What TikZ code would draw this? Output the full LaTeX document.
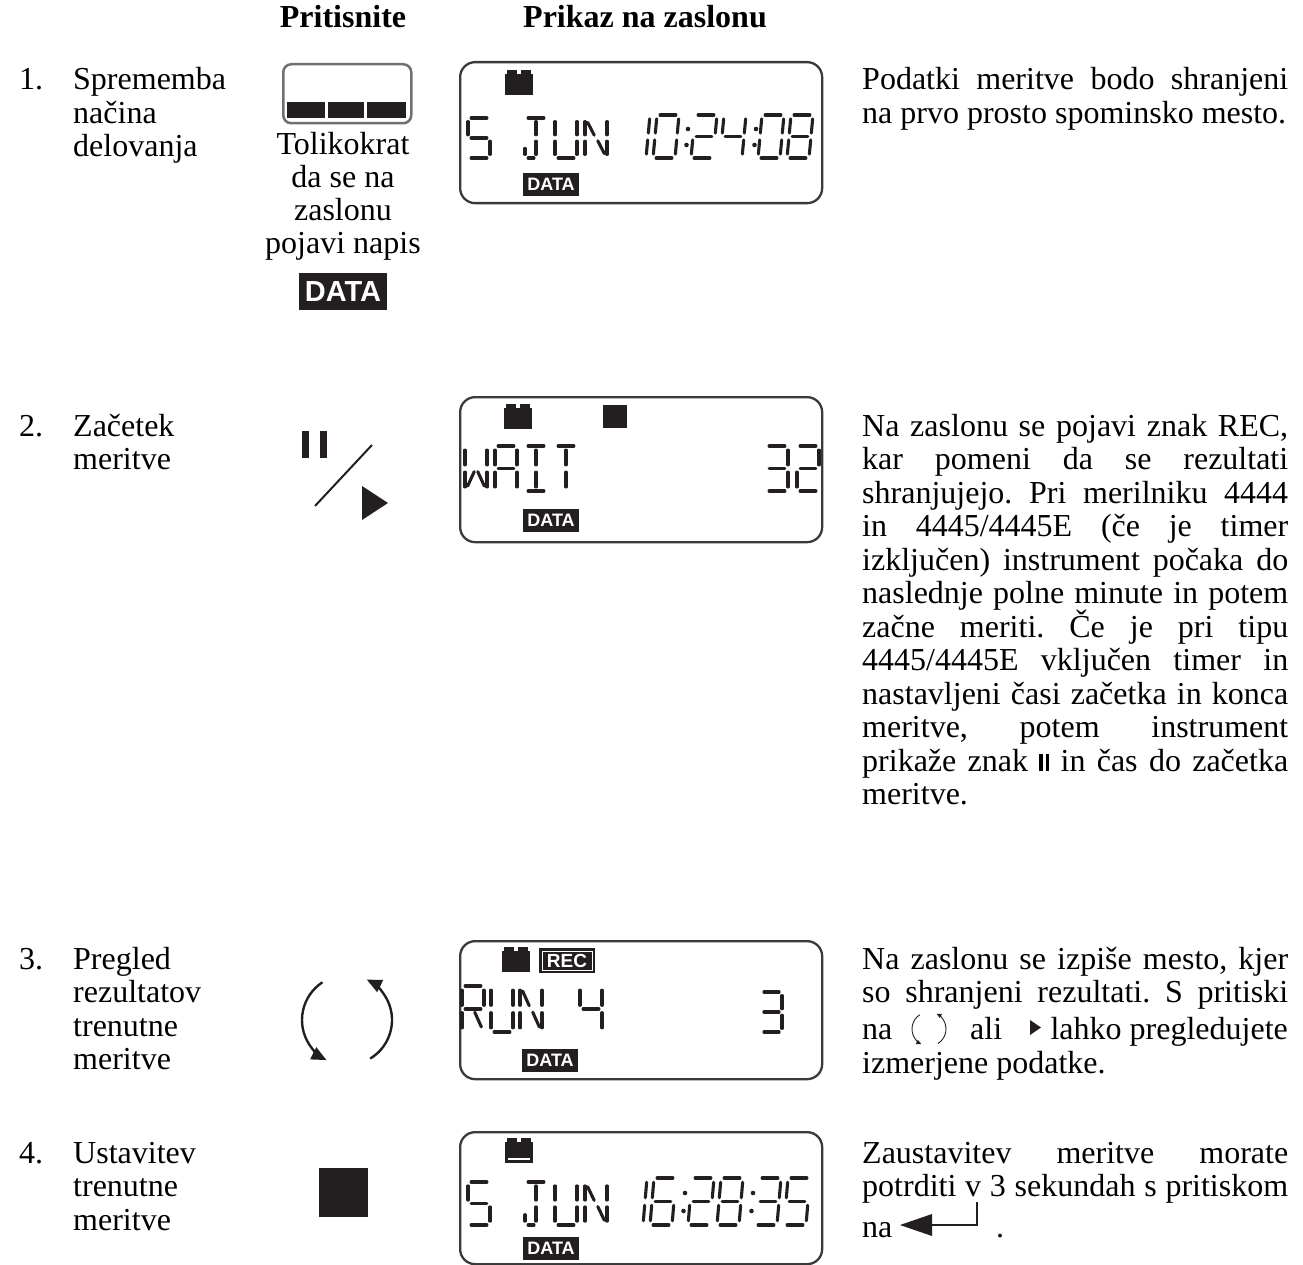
\documentclass[tikz,border=0pt]{standalone}
\usepackage{fontspec}
\setmainfont{Liberation Serif}
\newfontfamily\arialf{Liberation Sans}
\usetikzlibrary{arrows.meta}
\definecolor{ink}{HTML}{231F20}
\definecolor{framec}{HTML}{3A3A3A}
\definecolor{btnc}{HTML}{707070}
\frenchspacing

\def\sgA{(0.14,0)--(0.86,0)}
\def\sgB{(1,0.09)--(1,0.42)}
\def\sgC{(1,0.58)--(1,0.91)}
\def\sgD{(0.14,1)--(0.86,1)}
\def\sgE{(0,0.58)--(0,0.91)}
\def\sgF{(0,0.09)--(0,0.42)}
\def\sgG{(0.14,0.5)--(0.86,0.5)}
\def\sgGl{(0.14,0.5)--(0.41,0.5)}
\def\sgGr{(0.59,0.5)--(0.86,0.5)}
\def\sgH{(0.5,0.09)--(0.5,0.42)}
\def\sgL{(0.5,0.58)--(0.5,0.91)}
\def\sgDl{(0.14,1)--(0.41,1)}
\def\sgEs{(0,0.76)--(0,0.91)}
\def\sgNa{(0.12,0.11)--(0.42,0.43)}
\def\sgNb{(0.58,0.57)--(0.88,0.89)}
\def\sgWa{(0.42,0.57)--(0.12,0.89)}

\newcommand\lcdchar[6]{%
  \begin{scope}[shift={(#1pt,-#2pt)},x={(#3pt,0pt)},y={(-#5pt,-#4pt)}]
    \foreach \s in {#6}{\edef\tmp{\noexpand\draw[segline] \csname sg\s\endcsname;}\tmp}
  \end{scope}}
\newcommand\lcdbatt[2]{%
  \fill[ink] (#1,#2+4) rectangle (#1+28,#2+25);
  \fill[ink] (#1+2,#2) rectangle (#1+12,#2+5);
  \fill[ink] (#1+16,#2) rectangle (#1+26,#2+5);}
\newcommand\lcdcolon[3]{\fill[ink] (#1,#2) circle[radius=2.3pt]; \fill[ink] (#1-1.5,#3) circle[radius=2.3pt];}
\newcommand\jline[3]{\node[txt] (#1) at (862,#2) {\makebox[426pt][s]{#3}};}
\newcommand\nline[3]{\node[txt] (#1) at (862,#2) {#3};}
\newcommand\pausesym{\rule{3.2pt}{17pt}\hspace{3.5pt}\rule{3.2pt}{17pt}}

\begin{document}
\begin{tikzpicture}[x=1pt,y=-1pt,
  txt/.style={anchor=base west,inner sep=0pt,font=\fontsize{32}{33.5}\selectfont},
  ctxt/.style={anchor=base,inner sep=0pt,font=\fontsize{32}{33.5}\selectfont},
  hdr/.style={anchor=base,inner sep=0pt,font=\fontsize{32}{33.5}\selectfont\bfseries},
  lcdframe/.style={draw=framec,line width=2.3pt,rounded corners=15pt,anchor=north west,inner sep=0pt,minimum width=362pt},
  segline/.style={line width=3.1pt,draw=ink,line cap=round},
  databox/.style={fill=ink,text=white,inner sep=0pt,font=\arialf\bfseries\fontsize{18}{18}\selectfont,minimum width=56pt,minimum height=23pt},
  bigarr/.style={line width=2.4pt,draw=ink,-{Triangle[length=15pt,width=13pt]}},
  smallarr/.style={line width=0.9pt,draw=ink,-{Triangle[length=5pt,width=4.5pt]}}]
\useasboundingbox (0,0) rectangle (1303,1265);

% headers
\node[hdr] (h1) at (343,28) {Pritisnite};
\node[hdr] (h2) at (645,28) {Prikaz na zaslonu};

% left column
\node[txt] (n1) at (19,90) {1.};
\node[txt] (l1a) at (73,90) {Sprememba};
\node[txt] (l1b) at (73,123.5) {načina};
\node[txt] (l1c) at (73,157) {delovanja};
\node[txt] (n2) at (19,436) {2.};
\node[txt] (l2a) at (73,436) {Začetek};
\node[txt] (l2b) at (73,469.5) {meritve};
\node[txt] (n3) at (19,969) {3.};
\node[txt] (l3a) at (73,969) {Pregled};
\node[txt] (l3b) at (73,1002.5) {rezultatov};
\node[txt] (l3c) at (73,1036) {trenutne};
\node[txt] (l3d) at (73,1069.5) {meritve};
\node[txt] (n4) at (19,1163) {4.};
\node[txt] (l4a) at (73,1163) {Ustavitev};
\node[txt] (l4b) at (73,1196.5) {trenutne};
\node[txt] (l4c) at (73,1230) {meritve};

% button 1
\node[draw=btnc,line width=2.5pt,rounded corners=8pt,anchor=north west,inner sep=0pt,minimum width=128pt,minimum height=59pt] (btn1) at (282,63) {};
\fill[ink] (287,102) rectangle (325,118);
\fill[ink] (328,102) rectangle (364,118);
\fill[ink] (367,102) rectangle (406,118);
\node[ctxt] (t1) at (343,155) {Tolikokrat};
\node[ctxt] (t2) at (343,188) {da se na};
\node[ctxt] (t3) at (343,221) {zaslonu};
\node[ctxt] (t4) at (343,254) {pojavi napis};
\node[fill=ink,text=white,inner sep=0pt,minimum width=88pt,minimum height=37pt,font=\arialf\bfseries\fontsize{29}{29}\selectfont] (b1data) at (343,291.5) {DATA};

% button 2
\fill[ink] (302,431) rectangle (309,458);
\fill[ink] (320,431) rectangle (327,458);
\draw[ink,line width=2pt] (315,506) -- (372,445);
\fill[ink] (362,486) -- (388,503) -- (362,520) -- cycle;

% button 3
\coordinate (cc) at (347,1020);
\draw[bigarr] (cc) ++(123:45pt) arc[start angle=123,end angle=243,radius=45pt];
\draw[bigarr] (cc) ++(-59:45pt) arc[start angle=-59,end angle=64,radius=45pt];

% button 4
\node[fill=ink,inner sep=0pt,minimum size=49pt,anchor=north west] (stopbtn) at (319,1168) {};

% display 1
\node[lcdframe,minimum height=141pt] (disp1) at (459,61) {};
\lcdbatt{505}{70}
\lcdchar{468}{118}{22}{40}{0}{A,F,G,C,D}
\lcdchar{525}{118}{22}{40}{0}{A,H,L,Dl,Es}
\lcdchar{555}{118}{22}{40}{0}{F,E,D,B,C}
\lcdchar{585}{118}{22}{40}{0}{F,E,B,C,Na,Nb}
\lcdchar{628}{115}{22}{43}{4}{B,C}
\lcdchar{657}{115}{22}{43}{4}{A,B,C,D,E,F}
\lcdcolon{688}{129}{145}
\lcdchar{695}{115}{22}{43}{4}{A,B,G,E,D}
\lcdchar{724}{115}{22}{43}{4}{F,G,B,C}
\lcdcolon{756}{129}{145}
\lcdchar{762}{115}{22}{43}{4}{A,B,C,D,E,F}
\lcdchar{791}{115}{22}{43}{4}{A,B,C,D,E,F,G}
\node[databox] (d1data) at (551,184.5) {DATA};

% display 2
\node[lcdframe,minimum height=145pt] (disp2) at (459,396) {};
\lcdbatt{504}{404}
\fill[ink] (603,405) rectangle (627,428);
\lcdchar{465}{446}{22}{45}{0}{F,E,B,C,Wa,Nb}
\lcdchar{495}{446}{22}{45}{0}{A,F,E,B,C,G}
\lcdchar{525}{446}{22}{45}{0}{A,H,L,D}
\lcdchar{555}{446}{22}{45}{0}{A,H,L}
\lcdchar{766}{446}{22}{45}{0}{A,B,G,C,D}
\lcdchar{797}{446}{22}{45}{0}{A,B,G,E,D}
\node[databox] (d2data) at (551,520) {DATA};

% display 3
\node[lcdframe,minimum height=138pt] (disp3) at (459,940) {};
\lcdbatt{502}{947}
\node[fill=ink,inner sep=0pt,minimum width=56pt,minimum height=25pt] (recbox) at (567,960.5) {};
\node[draw=white,line width=1pt,inner sep=0pt,minimum width=50pt,minimum height=19pt,text=white,font=\arialf\bfseries\fontsize{19}{19}\selectfont] (rectext) at (recbox.center) {REC};
\lcdchar{462}{986}{22}{46}{0}{A,F,E,B,G,Nb}
\lcdchar{491}{986}{22}{46}{0}{F,E,D,B,C}
\lcdchar{520}{986}{22}{46}{0}{F,E,B,C,Na,Nb}
\lcdchar{580}{986}{22}{46}{0}{F,G,B,C}
\lcdchar{761}{992}{21}{40}{0}{A,B,G,C,D}
\node[databox] (d3data) at (550,1060) {DATA};

% display 4
\node[lcdframe,minimum height=132pt] (disp4) at (459,1131) {};
\lcdbatt{505}{1138}
\draw[white,line width=1.5pt] (508,1159) -- (530,1159);
\lcdchar{468}{1182}{22}{43}{0}{A,F,G,C,D}
\lcdchar{525}{1182}{22}{43}{0}{A,H,L,Dl,Es}
\lcdchar{555}{1182}{22}{43}{0}{F,E,D,B,C}
\lcdchar{585}{1182}{22}{43}{0}{F,E,B,C,Na,Nb}
\lcdchar{625}{1178}{22}{47}{4}{B,C}
\lcdchar{654}{1178}{22}{47}{4}{A,F,G,E,D,C}
\lcdcolon{685}{1193}{1211}
\lcdchar{692}{1178}{22}{47}{4}{A,B,G,E,D}
\lcdchar{721}{1178}{22}{47}{4}{A,B,C,D,E,F,G}
\lcdcolon{753}{1193}{1211}
\lcdchar{759}{1178}{22}{47}{4}{A,B,G,C,D}
\lcdchar{788}{1178}{22}{47}{4}{A,F,G,C,D}
\node[databox] (d4data) at (551,1248) {DATA};

% right column, row 1
\jline{r1a}{90}{Podatki meritve bodo shranjeni}
\nline{r1b}{123.5}{na prvo prosto spominsko mesto.}

% row 2
\jline{r2a}{436}{Na zaslonu se pojavi znak REC,}
\jline{r2b}{469.5}{kar pomeni da se rezultati}
\jline{r2c}{503}{shranjujejo. Pri merilniku 4444}
\jline{r2d}{536.5}{in 4445/4445E (če je timer}
\jline{r2e}{570}{izključen) instrument počaka do}
\jline{r2f}{603.5}{naslednje polne minute in potem}
\jline{r2g}{637}{začne meriti. Če je pri tipu}
\jline{r2h}{670.5}{4445/4445E vključen timer in}
\jline{r2i}{704}{nastavljeni časi začetka in konca}
\jline{r2j}{737.5}{meritve, potem instrument}
\jline{r2k}{771}{prikaže znak \pausesym{} in čas do začetka}
\nline{r2l}{804.5}{meritve.}

% row 3
\jline{r3a}{969}{Na zaslonu se izpiše mesto, kjer}
\jline{r3b}{1002.5}{so shranjeni rezultati. S pritiski}
\node[txt] (r3na) at (862,1039) {na};
\coordinate (ic) at (929,1029);
\draw[smallarr] (ic) ++(123:17pt) arc[start angle=123,end angle=243,radius=17pt];
\draw[smallarr] (ic) ++(-59:17pt) arc[start angle=-59,end angle=64,radius=17pt];
\node[txt] (r3ali) at (970,1039) {ali};
\fill[ink] (1030,1020) -- (1041,1027.5) -- (1030,1035) -- cycle;
\node[txt,anchor=base east] (r3lahko) at (1288,1039) {lahko pregledujete};
\nline{r3d}{1073}{izmerjene podatke.}

% row 4
\jline{r4a}{1163}{Zaustavitev meritve morate}
\jline{r4b}{1196.5}{potrditi v 3 sekundah s pritiskom}
\node[txt] (r4na) at (862,1237) {na};
\draw[ink,line width=1.3pt] (977,1202) -- (977,1225) -- (930,1225);
\fill[ink] (900,1225) -- (932,1214) -- (932,1236) -- cycle;
\node[txt] (r4dot) at (996,1237) {.};
\end{tikzpicture}
\end{document}
